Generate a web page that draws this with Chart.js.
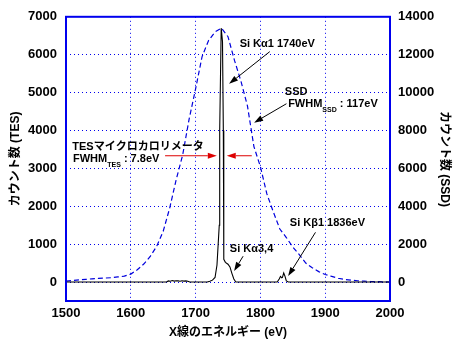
<!DOCTYPE html>
<html>
<head>
<meta charset="utf-8">
<script src="https://cdn.jsdelivr.net/npm/chart.js@4"></script>
<style>
  html, body { margin: 0; padding: 0; background: #fff; }
  #wrap { width: 457px; height: 349px; }
</style>
</head>
<body>
<div id="wrap"><canvas id="chart"></canvas></div>
<script>
// TES microcalorimeter spectrum (left axis)
const tesEnergy = [1500, 1655, 1658, 1661, 1664, 1667, 1670, 1673, 1676, 1679, 1682, 1685, 1688, 1691,
  1718, 1722, 1726, 1730, 1733, 1734.5, 1736.5, 1737.2, 1739.5, 1741.5, 1742.8, 1743.2, 1743.8,
  1746, 1750, 1753, 1756, 1759, 1762, 1826, 1829, 1831, 1833, 1834, 1836, 1838, 1840, 1843, 2000];
const tesCounts = [0, 0, 30, 20, 40, 25, 35, 30, 20, 35, 25, 30, 20, 0,
  0, 20, 50, 120, 450, 900, 1500, 4000, 6700, 6350, 4000, 1500, 600,
  520, 470, 400, 230, 80, 0, 0, 80, 150, 110, 120, 240, 150, 30, 0, 0];

// SSD spectrum (right axis)
const ssdEnergy = [1500, 1510, 1520, 1530, 1540, 1550, 1560, 1570, 1580, 1590,
  1600, 1610, 1620, 1630, 1640, 1650, 1660, 1670, 1680, 1690,
  1700, 1710, 1720, 1730, 1740, 1750, 1760, 1770, 1780, 1790,
  1800, 1810, 1820, 1830, 1840, 1850, 1860, 1870, 1880, 1890,
  1900, 1910, 1920, 1930, 1940, 1950, 1960, 1970, 1980, 1990, 2000];
const ssdCounts = [50, 80, 110, 140, 170, 190, 210, 230, 270, 310,
  420, 650, 950, 1350, 1890, 2680, 3900, 5400, 6700, 8600,
  10200, 11900, 12750, 13200, 13400, 12950, 11700, 10600, 9300, 7150,
  6090, 4650, 3700, 2800, 2350, 1850, 1450, 1000, 750, 550,
  400, 300, 200, 140, 100, 70, 50, 30, 20, 10, 0];

const xTicks = [1500, 1600, 1700, 1800, 1900, 2000];
const tesTicks = [0, 1000, 2000, 3000, 4000, 5000, 6000, 7000];
const ssdTicks = [0, 2000, 4000, 6000, 8000, 10000, 12000, 14000];

const BLUE = '#0000ee';
const SANS = '"Liberation Sans", Arial, "Noto Sans CJK JP", sans-serif';
const tickFont = { family: SANS, size: 13, weight: 'bold' };
const titleFont = { family: SANS, size: 12, weight: 'bold' };

function toXY(xs, ys) { return xs.map((x, i) => ({ x: x, y: ys[i] })); }
function fixTicks(list) { return function (scale) { scale.ticks = list.map(v => ({ value: v })); }; }

// annotation texts, placed in data units (x: eV, y: TES counts)
const notes = [
  { x: 1768, y: 6280, parts: [{ t: 'Si Kα1 1740eV' }] },
  { x: 1837.7, y: 5013, parts: [{ t: 'SSD' }] },
  { x: 1842.8, y: 4706, parts: [{ t: 'FWHM' }, { t: 'SSD', sub: true }, { t: ' : 117eV' }] },
  { x: 1509.7, y: 3570, parts: [{ t: 'TESマイクロカロリメータ' }] },
  { x: 1510.8, y: 3255, parts: [{ t: 'FWHM' }, { t: 'TES', sub: true }, { t: ' : 7.8eV' }] },
  { x: 1752.8, y: 874, parts: [{ t: 'Si Kα3,4' }] },
  { x: 1845.4, y: 1556, parts: [{ t: 'Si Kβ1 1836eV' }] }
];
const arrows = [
  { from: [1814.5, 6081], to: [1751.7, 5231], color: '#000' },
  { from: [1840.2, 4706], to: [1790.3, 4207], color: '#000' },
  { from: [1652.9, 3333], to: [1732.7, 3333], color: '#dd0000' },
  { from: [1786.7, 3333], to: [1748.1, 3333], color: '#dd0000' },
  { from: [1773.3, 682], to: [1759.4, 289], color: '#000' },
  { from: [1885, 1312], to: [1842.8, 157], color: '#000' }
];

const framePlugin = {
  id: 'frame',
  afterDatasetsDraw(chart) {
    const a = chart.chartArea, ctx = chart.ctx;
    ctx.save();
    ctx.strokeStyle = BLUE;
    ctx.lineWidth = 2;
    ctx.strokeRect(a.left, a.top, a.right - a.left, a.bottom - a.top);
    ctx.restore();
  }
};

const notesPlugin = {
  id: 'notes',
  afterDraw(chart) {
    const ctx = chart.ctx, sx = chart.scales.x, sy = chart.scales.y;
    ctx.save();
    ctx.textBaseline = 'middle';
    ctx.textAlign = 'left';
    ctx.fillStyle = '#000';
    notes.forEach(n => {
      let px = sx.getPixelForValue(n.x);
      const py = sy.getPixelForValue(n.y);
      n.parts.forEach(p => {
        ctx.font = p.sub ? 'bold 7px ' + SANS : 'bold 11px ' + SANS;
        ctx.fillText(p.t, px, p.sub ? py + 6 : py);
        px += ctx.measureText(p.t).width;
      });
    });
    arrows.forEach(ar => {
      const x1 = sx.getPixelForValue(ar.from[0]), y1 = sy.getPixelForValue(ar.from[1]);
      const x2 = sx.getPixelForValue(ar.to[0]), y2 = sy.getPixelForValue(ar.to[1]);
      const ang = Math.atan2(y2 - y1, x2 - x1);
      const len = 9, half = 3;
      ctx.strokeStyle = ar.color;
      ctx.fillStyle = ar.color;
      ctx.lineWidth = 1;
      ctx.beginPath();
      ctx.moveTo(x1, y1);
      ctx.lineTo(x2 - Math.cos(ang) * len, y2 - Math.sin(ang) * len);
      ctx.stroke();
      ctx.beginPath();
      ctx.moveTo(x2, y2);
      ctx.lineTo(x2 - Math.cos(ang) * len - Math.sin(ang) * half, y2 - Math.sin(ang) * len + Math.cos(ang) * half);
      ctx.lineTo(x2 - Math.cos(ang) * len + Math.sin(ang) * half, y2 - Math.sin(ang) * len - Math.cos(ang) * half);
      ctx.closePath();
      ctx.fill();
    });
    ctx.restore();
  }
};

new Chart(document.getElementById('chart'), {
  type: 'line',
  data: {
    datasets: [
      { label: 'TES', data: toXY(tesEnergy, tesCounts), yAxisID: 'y',
        borderColor: '#000', borderWidth: 1.1, pointRadius: 0, tension: 0, fill: false },
      { label: 'SSD', data: toXY(ssdEnergy, ssdCounts), yAxisID: 'y2',
        borderColor: '#0000dd', borderWidth: 1.2, borderDash: [5, 3], pointRadius: 0, tension: 0, fill: false }
    ]
  },
  options: {
    responsive: true,
    maintainAspectRatio: false,
    animation: false,
    layout: { padding: { top: 14, left: 0, right: 0, bottom: 0 } },
    plugins: { legend: { display: false }, tooltip: { enabled: false } },
    scales: {
      x: {
        type: 'linear', min: 1500, max: 2000,
        afterBuildTicks: fixTicks(xTicks),
        afterFit(s) { s.height = 48; },
        grid: { color: BLUE, drawTicks: false },
        border: { display: false, dash: [1, 3] },
        ticks: { font: tickFont, color: '#000', padding: 5, maxRotation: 0, callback: v => String(v) },
        title: { display: true, text: 'X線のエネルギー (eV)', font: titleFont, color: '#000', padding: { top: 0, bottom: 9 } }
      },
      y: {
        position: 'left', min: -500, max: 7000,
        afterBuildTicks: fixTicks(tesTicks),
        afterFit(s) { s.width = 66; },
        grid: { color: BLUE, drawTicks: false },
        border: { display: false, dash: [1, 3] },
        ticks: { font: tickFont, color: '#000', padding: 9, callback: v => String(v) },
        title: { display: true, text: 'カウント数 (TES)', font: titleFont, color: '#000', padding: { top: 8, bottom: 0 } }
      },
      y2: {
        position: 'right', min: -1000, max: 14000,
        afterBuildTicks: fixTicks(ssdTicks),
        afterFit(s) { s.width = 67; },
        grid: { display: false, drawTicks: false },
        border: { display: false },
        ticks: { font: tickFont, color: '#000', padding: 8, callback: v => String(v) },
        title: { display: true, text: 'カウント数 (SSD)', font: titleFont, color: '#000', padding: { top: 5, bottom: 0 } }
      }
    }
  },
  plugins: [framePlugin, notesPlugin]
});
</script>
</body>
</html>
